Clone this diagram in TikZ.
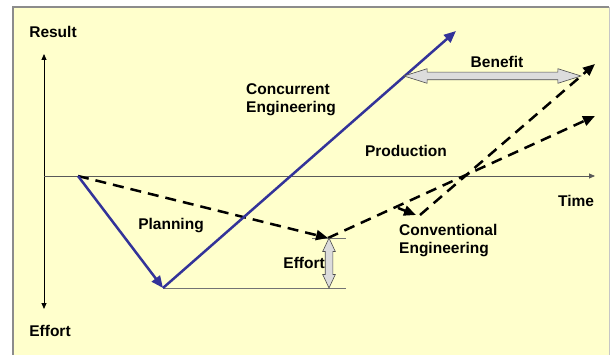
\documentclass[tikz,border=0pt]{standalone}
\usepackage{fontspec}
\setmainfont{Liberation Sans}
\usetikzlibrary{arrows.meta,shapes.arrows,positioning}
\definecolor{paper}{HTML}{FFFFCC}
\definecolor{frame}{HTML}{8C8C8C}
\definecolor{ceblue}{HTML}{333399}
\definecolor{fat}{HTML}{DCDCDC}

\begin{document}
\begin{tikzpicture}[x=1pt,y=-1pt,>={Triangle[length=6pt,width=5pt]},font=\fontsize{15.5}{18}\selectfont\bfseries]
		\tikzstyle{axis} = [draw=black, line width=.8pt]
		\tikzstyle{ce} = [draw=ceblue, line width=2.5pt, -{Triangle[length=12pt,width=10pt]}]
		\tikzstyle{conv} = [draw=black, line width=2.5pt, dash pattern=on 11pt off 7pt, -{Triangle[length=12pt,width=10pt]}]
		\tikzstyle{level} = [draw=black!55, line width=.8pt]
		\tikzstyle{gain} = [double arrow, draw=black!70, fill=fat, inner xsep=0pt, inner ysep=3.5pt, line width=.6pt]
		\tikzstyle{lbl} = [inner sep=0pt, text=black]
		\useasboundingbox (0,0) rectangle (610,355);
		\fill[paper] (13,7) rectangle (609,360);
		\draw[frame, line width=1.2pt] (13,360) -- (13,7) -- (609,7);
		\draw[frame!50, line width=.8pt] (609,7) -- (609,360);
		% axes
		\coordinate (top) at (44,54);
		\coordinate (bottom) at (44,309);
		\coordinate (o) at (44,176);
		\coordinate (t) at (595,176);
		\draw[axis, <->] (top) -- (bottom);
		\draw[axis, draw=black!65, ->] (o) -- (t);
		\node (result) [lbl] at (53,32) {Result};
		\node (effort) [lbl] at (50,331) {Effort};
		\node (time) [lbl] at (576,201) {Time};
		% points
		\coordinate (s) at (78,176);
		\coordinate (p) at (163,288);
		\coordinate (c) at (456,31);
		\coordinate (e) at (328,238);
		\coordinate (k) at (398,208);
		\coordinate (kt) at (416,215);
		\coordinate (ks) at (420,215);
		\coordinate (c1) at (595,64);
		\coordinate (c2) at (595,116);
		\coordinate (p1) at (346,288);
		\coordinate (e0) at (312,238);
		\coordinate (e1) at (346,238);
		% levels
		\draw[level] (p) -- (p1);
		\draw[level] (e0) -- (e1);
		% conventional
		\draw[conv] (s) -- (e);
		\draw[conv] (e) -- (c2);
		\draw[conv] (k) -- (kt);
		\draw[conv] (ks) -- (c1);
		% concurrent
		\draw[ce] (s) -- (p);
		\draw[ce] (p) -- (c);
		% fat arrows
		\node (gb) [gain, minimum height=177pt, double arrow head extend=3.5pt, double arrow tip angle=35] at (492.5,76) {};
		\node (ge) [gain, rotate=90, minimum height=50pt, double arrow head extend=2.5pt, double arrow tip angle=50] at (329,263) {};
		% labels
		\node (benefit) [lbl] at (497,62) {Benefit};
		\node (cel) [lbl, align=left, anchor=base west] at (246,113) {Concurrent\\Engineering};
		\node (prod) [lbl] at (406,151) {Production};
		\node (plan) [lbl, anchor=base] at (171,230) {Planning};
		\node (cvl) [lbl, align=left, anchor=base west] at (399,254) {Conventional\\Engineering};
		\node (eff) [lbl, left=4pt of ge.center] {Effort};
	\end{tikzpicture}
\end{document}
